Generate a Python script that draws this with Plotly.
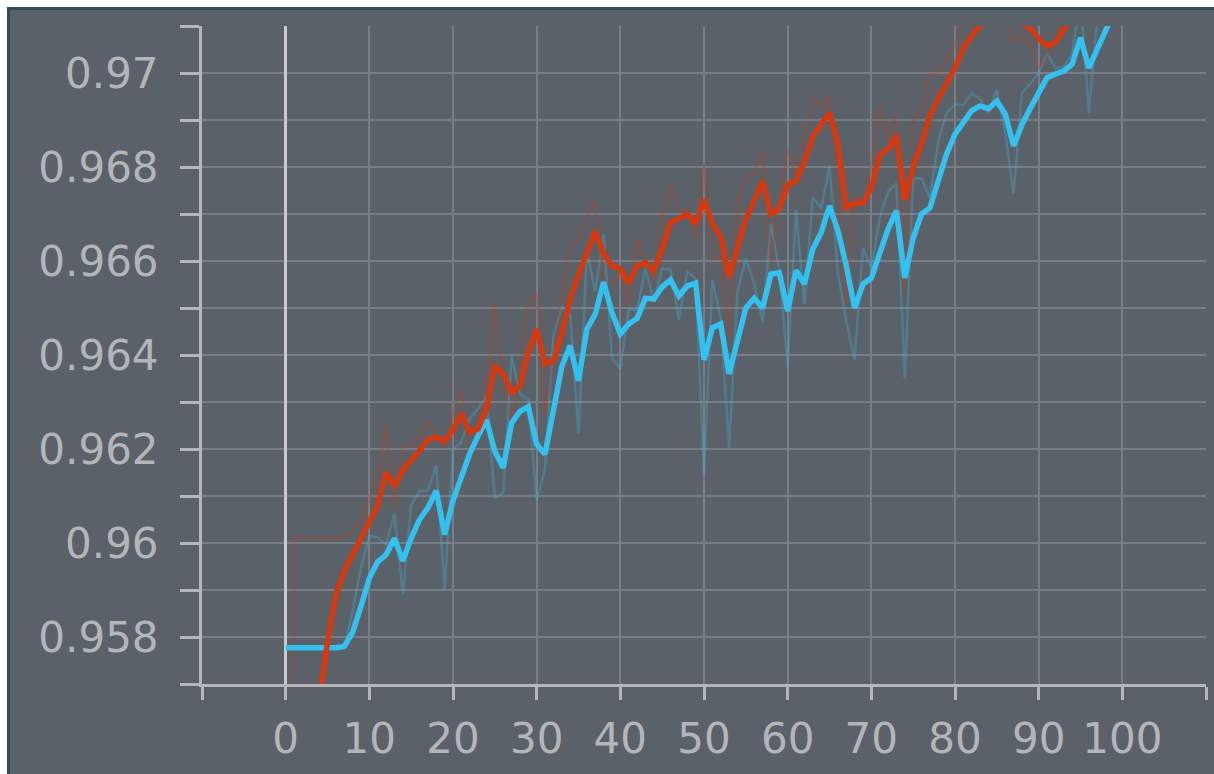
import plotly.graph_objects as go

# training steps
steps = list(range(101))

# cyan run: smoothed curve and raw values
cyan_smoothed = [
    0.95777, 0.95777, 0.95777, 0.95777, 0.95777, 0.95777, 0.95777, 0.95780, 0.95810, 0.95865,
    0.95925, 0.95960, 0.95975, 0.96010, 0.95962, 0.96010, 0.96050, 0.96075, 0.96111, 0.96018,
    0.96090, 0.96140, 0.96190, 0.96228, 0.96262, 0.96195, 0.96160, 0.96255, 0.96280, 0.96290,
    0.96210, 0.96189, 0.96290, 0.96375, 0.96420, 0.96345, 0.96455, 0.96487, 0.96555, 0.96490,
    0.96445, 0.96466, 0.96478, 0.96521, 0.96519, 0.96545, 0.96560, 0.96526, 0.96547, 0.96553,
    0.96390, 0.96458, 0.96466, 0.96360, 0.96430, 0.96500, 0.96521, 0.96500, 0.96572, 0.96575,
    0.96494, 0.96580, 0.96551, 0.96625, 0.96660, 0.96717, 0.96665, 0.96590, 0.96500, 0.96551,
    0.96564, 0.96615, 0.96668, 0.96707, 0.96564, 0.96649, 0.96700, 0.96713, 0.96770, 0.96828,
    0.96870, 0.96895, 0.96920, 0.96930, 0.96924, 0.96940, 0.96913, 0.96845, 0.96890, 0.96925,
    0.96955, 0.96990, 0.96998, 0.97004, 0.97019, 0.97075, 0.97011, 0.97053, 0.97096, 0.97130,
    0.97160,
]
cyan_raw = [
    0.95777, 0.95777, 0.95777, 0.95777, 0.95777, 0.95777, 0.95777, 0.95777, 0.95855, 0.95948,
    0.96015, 0.96012, 0.95997, 0.96062, 0.95890, 0.96082, 0.96110, 0.96112, 0.96165, 0.95900,
    0.96198, 0.96215, 0.96265, 0.96285, 0.96313, 0.96095, 0.96108, 0.96397, 0.96317, 0.96305,
    0.96090, 0.96158, 0.96441, 0.96502, 0.96487, 0.96233, 0.96620, 0.96535, 0.96657, 0.96393,
    0.96370, 0.96497, 0.96496, 0.96585, 0.96516, 0.96584, 0.96582, 0.96475, 0.96578, 0.96562,
    0.96146, 0.96560, 0.96478, 0.96201, 0.96535, 0.96605, 0.96552, 0.96469, 0.96680, 0.96579,
    0.96373, 0.96709, 0.96508, 0.96736, 0.96712, 0.96802, 0.96575, 0.96473, 0.96390, 0.96627,
    0.96584, 0.96691, 0.96748, 0.96765, 0.96350, 0.96776, 0.96776, 0.96733, 0.96855, 0.96915,
    0.96933, 0.96932, 0.96957, 0.96945, 0.96915, 0.96964, 0.96873, 0.96743, 0.96957, 0.96977,
    0.97000, 0.97042, 0.97010, 0.97013, 0.97041, 0.97159, 0.96915, 0.97116, 0.97160, 0.97181,
    0.97205,
]

# red run: smoothed curve and raw values
red_smoothed = [
    0.89800, 0.93680, 0.94870, 0.95390, 0.95660, 0.95790, 0.95890, 0.95940, 0.95975, 0.96005,
    0.96040, 0.96080, 0.96150, 0.96120, 0.96155, 0.96175, 0.96196, 0.96221, 0.96225, 0.96217,
    0.96240, 0.96275, 0.96236, 0.96243, 0.96285, 0.96375, 0.96360, 0.96320, 0.96334, 0.96405,
    0.96455, 0.96381, 0.96387, 0.96445, 0.96520, 0.96570, 0.96620, 0.96664, 0.96615, 0.96590,
    0.96583, 0.96553, 0.96590, 0.96596, 0.96579, 0.96625, 0.96681, 0.96692, 0.96700, 0.96679,
    0.96730, 0.96680, 0.96652, 0.96565, 0.96630, 0.96690, 0.96728, 0.96770, 0.96700, 0.96711,
    0.96762, 0.96770, 0.96810, 0.96865, 0.96890, 0.96915, 0.96850, 0.96713, 0.96723, 0.96723,
    0.96755, 0.96825, 0.96838, 0.96868, 0.96730, 0.96798, 0.96849, 0.96910, 0.96945, 0.96980,
    0.97011, 0.97053, 0.97080, 0.97100, 0.97120, 0.97140, 0.97150, 0.97120, 0.97105, 0.97095,
    0.97072, 0.97058, 0.97065, 0.97090, 0.97120, 0.97150, 0.97165, 0.97180, 0.97190, 0.97200,
    0.97215,
]
red_raw = [
    0.89800, 0.96010, 0.96010, 0.96010, 0.96010, 0.96010, 0.96010, 0.96010, 0.96027, 0.96050,
    0.96092, 0.96140, 0.96255, 0.96075, 0.96207, 0.96205, 0.96227, 0.96258, 0.96231, 0.96205,
    0.96274, 0.96327, 0.96178, 0.96253, 0.96348, 0.96510, 0.96338, 0.96260, 0.96355, 0.96511,
    0.96530, 0.96270, 0.96396, 0.96532, 0.96632, 0.96645, 0.96695, 0.96730, 0.96542, 0.96553,
    0.96573, 0.96508, 0.96645, 0.96605, 0.96554, 0.96694, 0.96765, 0.96708, 0.96712, 0.96648,
    0.96806, 0.96605, 0.96610, 0.96435, 0.96727, 0.96780, 0.96785, 0.96833, 0.96595, 0.96727,
    0.96838, 0.96782, 0.96870, 0.96947, 0.96927, 0.96952, 0.96753, 0.96508, 0.96738, 0.96723,
    0.96803, 0.96930, 0.96858, 0.96913, 0.96523, 0.96900, 0.96925, 0.97001, 0.96997, 0.97032,
    0.97057, 0.97116, 0.97120, 0.97130, 0.97150, 0.97170, 0.97165, 0.97065, 0.97078, 0.97065,
    0.97010, 0.97037, 0.97075, 0.97127, 0.97165, 0.97195, 0.97187, 0.97202, 0.97205, 0.97215,
    0.97237,
]

# axis ticks
x_tick_values = [-10, 0, 10, 20, 30, 40, 50, 60, 70, 80, 90, 100, 110]
x_tick_text = ["", "0", "10", "20", "30", "40", "50", "60", "70", "80", "90", "100", ""]
y_tick_values = [0.957, 0.958, 0.959, 0.960, 0.961, 0.962, 0.963, 0.964,
                 0.965, 0.966, 0.967, 0.968, 0.969, 0.970, 0.971]
y_tick_text = ["", "0.958", "", "0.96", "", "0.962", "", "0.964",
               "", "0.966", "", "0.968", "", "0.97", ""]

RED = "#d4390f"
CYAN = "#35c1ef"
PANEL = "#5b6168"
GRID = "#787d84"
AXIS = "#b4b7ba"
TEXT = "#b3b6b9"

W, H = 1214, 774
ML, MR, MT, MB = 202, 8, 26, 90
PW, PH = W - ML - MR, H - MT - MB


def px_to_paper_x(px):
    return (px - ML) / PW


def px_to_paper_y(py):
    return (H - MB - py) / PH


fig = go.Figure()

# faint raw traces underneath
fig.add_trace(go.Scatter(x=steps, y=cyan_raw, mode="lines",
                         line=dict(color=CYAN, width=2.5), opacity=0.28,
                         hoverinfo="skip", showlegend=False))
fig.add_trace(go.Scatter(x=steps, y=red_raw, mode="lines",
                         line=dict(color=RED, width=2.5), opacity=0.28,
                         hoverinfo="skip", showlegend=False))
# smoothed traces on top
fig.add_trace(go.Scatter(x=steps, y=cyan_smoothed, mode="lines",
                         line=dict(color=CYAN, width=5.5), showlegend=False))
fig.add_trace(go.Scatter(x=steps, y=red_smoothed, mode="lines",
                         line=dict(color=RED, width=5.5), showlegend=False))

# dark panel with its framing edge, drawn behind the grid
fig.add_shape(type="rect", xref="paper", yref="paper", layer="below",
              x0=px_to_paper_x(8.5), x1=px_to_paper_x(W + 20),
              y0=px_to_paper_y(H + 20), y1=px_to_paper_y(8.5),
              fillcolor=PANEL, line=dict(color="#34495e", width=3))

axis_font = dict(family="DejaVu Sans", size=42, color=TEXT)

fig.update_layout(
    width=W, height=H, autosize=False,
    margin=dict(l=ML, r=MR, t=MT, b=MB, pad=0),
    paper_bgcolor="white",
    plot_bgcolor=PANEL,
    showlegend=False,
    xaxis=dict(
        range=[-10, 110], tickmode="array",
        tickvals=x_tick_values, ticktext=x_tick_text,
        ticks="outside", ticklen=13, tickwidth=2.5, tickcolor=AXIS,
        showline=True, linecolor=AXIS, linewidth=3,
        showgrid=True, gridcolor=GRID, gridwidth=2,
        zeroline=True, zerolinecolor="#c9cacc", zerolinewidth=2.5,
        tickfont=axis_font, ticklabelstandoff=3,
    ),
    yaxis=dict(
        range=[0.957, 0.971], tickmode="array",
        tickvals=y_tick_values, ticktext=y_tick_text,
        ticks="outside", ticklen=19, tickwidth=2.5, tickcolor=AXIS,
        showline=True, linecolor=AXIS, linewidth=3,
        showgrid=True, gridcolor=GRID, gridwidth=2,
        zeroline=False,
        tickfont=axis_font, ticklabelstandoff=13,
    ),
)

fig.write_html("out.html")
